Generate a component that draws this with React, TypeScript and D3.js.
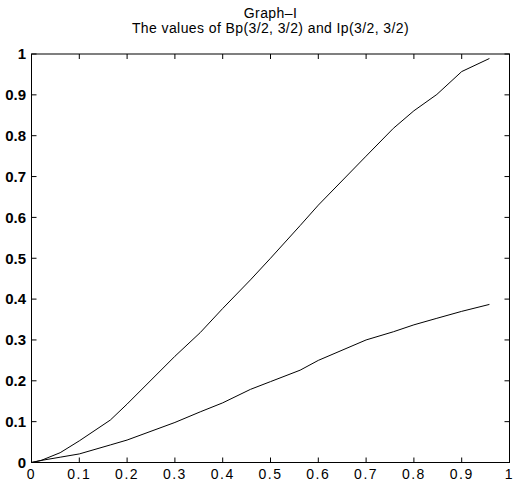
import React from "react";
import * as d3 from "d3";

const xValues = [0, 0.02, 0.06, 0.1, 0.165, 0.2, 0.3, 0.353, 0.4, 0.458, 0.5, 0.562, 0.6, 0.7, 0.757, 0.8, 0.848, 0.9, 0.958];
const bpValues = [0, 0.005, 0.024, 0.053, 0.104, 0.143, 0.26, 0.318, 0.377, 0.447, 0.5, 0.58, 0.63, 0.75, 0.818, 0.861, 0.901, 0.957, 0.989];
const ipValues = [0, 0.005, 0.013, 0.021, 0.043, 0.055, 0.098, 0.124, 0.146, 0.179, 0.198, 0.226, 0.25, 0.3, 0.32, 0.337, 0.353, 0.37, 0.387];
const xTicks = [0, 0.1, 0.2, 0.3, 0.4, 0.5, 0.6, 0.7, 0.8, 0.9, 1];
const yTicks = [0, 0.1, 0.2, 0.3, 0.4, 0.5, 0.6, 0.7, 0.8, 0.9, 1];
const titleLines = ["Graph\u2013I", "The values of Bp(3/2, 3/2) and Ip(3/2, 3/2)"];

const W = 514;
const H = 482;
const left = 31.5;
const right = 509.5;
const top = 54;
const bottom = 462.5;
const tickLen = 5;
const font = "'Liberation Sans', Arial, Helvetica, sans-serif";

export default function App() {
  const x = d3.scaleLinear().domain([0, 1]).range([left, right]);
  const y = d3.scaleLinear().domain([0, 1]).range([bottom, top]);
  const line = d3
    .line<number>()
    .x((_, i) => x(xValues[i]))
    .y((d) => y(d));

  const fmt = (v: number) => String(v);

  return (
    <svg
      width={W}
      height={H}
      style={{ position: "absolute", left: 0, top: 0, background: "#fff" }}
    >
      <rect x={0} y={0} width={W} height={H} fill="#fff" />
      <rect
        x={left}
        y={top}
        width={right - left}
        height={bottom - top}
        fill="none"
        stroke="#000"
        strokeWidth={1}
      />
      {xTicks.map((t) => (
        <g key={"xt" + t}>
          <line x1={x(t)} x2={x(t)} y1={bottom} y2={bottom - tickLen} stroke="#000" />
          <line x1={x(t)} x2={x(t)} y1={top} y2={top + tickLen} stroke="#000" />
          <text
            x={x(t)}
            y={479}
            textAnchor="middle"
            fontFamily={font}
            fontSize={14}
            letterSpacing={1.5}
            fill="#000"
          >
            {fmt(t)}
          </text>
        </g>
      ))}
      {yTicks.map((t) => (
        <g key={"yt" + t}>
          <line x1={left} x2={left + tickLen} y1={y(t)} y2={y(t)} stroke="#000" />
          <line x1={right} x2={right - tickLen} y1={y(t)} y2={y(t)} stroke="#000" />
          <text
            x={26}
            y={y(t)}
            dy="0.35em"
            textAnchor="end"
            fontFamily={font}
            fontSize={15}
            fontWeight="bold"
            fill="#000"
          >
            {fmt(t)}
          </text>
        </g>
      ))}
      <path d={line(bpValues) || ""} fill="none" stroke="#000" strokeWidth={1} />
      <path d={line(ipValues) || ""} fill="none" stroke="#000" strokeWidth={1} />
      {titleLines.map((t, i) => (
        <text
          key={"title" + i}
          x={(left + right) / 2}
          y={18 + i * 15}
          textAnchor="middle"
          fontFamily={font}
          fontSize={14}
          letterSpacing={0.4}
          fill="#000"
        >
          {t}
        </text>
      ))}
    </svg>
  );
}
